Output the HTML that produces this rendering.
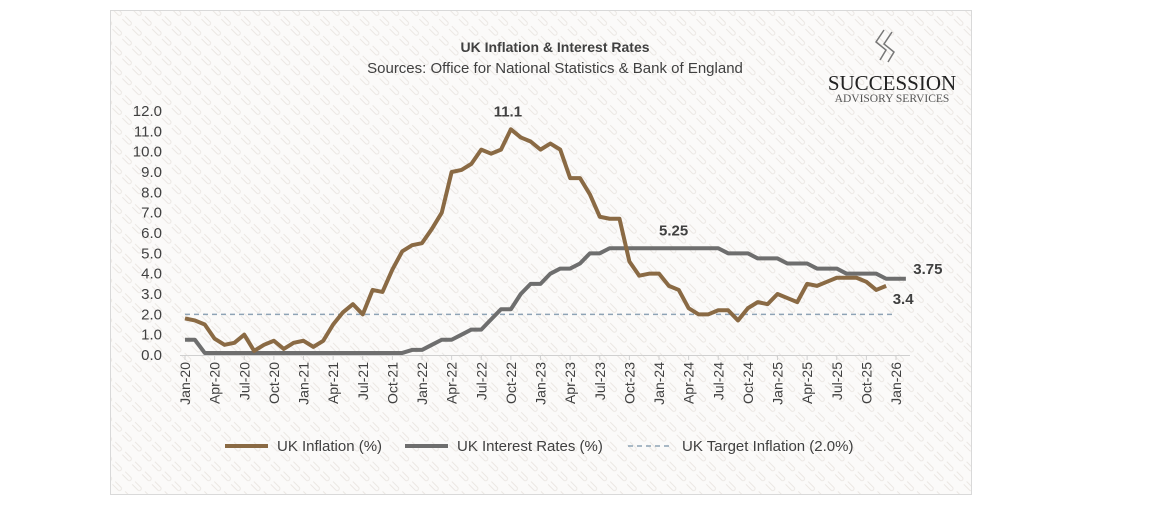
<!DOCTYPE html>
<html><head><meta charset="utf-8"><style>
html,body{margin:0;padding:0;background:#fff;}
body{width:1150px;height:514px;position:relative;font-family:"Liberation Sans",sans-serif;}
</style></head><body>
<svg width="1150" height="514" xmlns="http://www.w3.org/2000/svg">
<defs>
<pattern id="pat" width="14" height="14" patternUnits="userSpaceOnUse" patternTransform="rotate(-45)">
<rect width="14" height="14" fill="#fbfaf9"/>
<path d="M3 2 v8 a2 2 0 0 0 4 0 v-8" fill="none" stroke="#ebe7e3" stroke-width="1"/>
</pattern>
</defs>
<rect x="110.5" y="10.5" width="861" height="484" fill="url(#pat)" stroke="#d9d9d9"/>
<text x="555" y="52" text-anchor="middle" font-size="14" font-weight="bold" fill="#404040">UK Inflation &amp; Interest Rates</text>
<text x="555" y="73" text-anchor="middle" font-size="15" fill="#404040">Sources: Office for National Statistics &amp; Bank of England</text>
<g>
<path d="M884 30 l-8 12 l10 8 l-6 10 M892 32 l-8 12 l10 8 l-6 10" fill="none" stroke="#777" stroke-width="1.5"/>
<text x="892" y="90" text-anchor="middle" font-family="Liberation Serif,serif" font-size="21" fill="#222">SUCCESSION</text>
<text x="892" y="102" text-anchor="middle" font-family="Liberation Serif,serif" font-size="11.5" fill="#555">ADVISORY SERVICES</text>
</g>
<g id="yaxis"></g>
<g id="xaxis"></g>
<g id="series"></g>
<g>
<line x1="225" y1="446" x2="268" y2="446" stroke="#8a6a44" stroke-width="4"/>
<text x="277" y="451" font-size="15" fill="#404040">UK Inflation (%)</text>
<line x1="405" y1="446" x2="448" y2="446" stroke="#6e6e6e" stroke-width="4"/>
<text x="457" y="451" font-size="15" fill="#404040">UK Interest Rates (%)</text>
<line x1="628" y1="446" x2="672" y2="446" stroke="#8ea3b5" stroke-width="1.5" stroke-dasharray="5,4"/>
<text x="682" y="451" font-size="15" fill="#404040">UK Target Inflation (2.0%)</text>
</g>
</svg>
<script>
const yTicks=[0,1,2,3,4,5,6,7,8,9,10,11,12];
const xTickLabels=["Jan-20","Apr-20","Jul-20","Oct-20","Jan-21","Apr-21","Jul-21","Oct-21","Jan-22","Apr-22","Jul-22","Oct-22","Jan-23","Apr-23","Jul-23","Oct-23","Jan-24","Apr-24","Jul-24","Oct-24","Jan-25","Apr-25","Jul-25","Oct-25","Jan-26"];
const inflation=[1.8,1.7,1.5,0.8,0.5,0.6,1.0,0.2,0.5,0.7,0.3,0.6,
0.7,0.4,0.7,1.5,2.1,2.5,2.0,3.2,3.1,4.2,5.1,5.4,
5.5,6.2,7.0,9.0,9.1,9.4,10.1,9.9,10.1,11.1,10.7,10.5,
10.1,10.4,10.1,8.7,8.7,7.9,6.8,6.7,6.7,4.6,3.9,4.0,
4.0,3.4,3.2,2.3,2.0,2.0,2.2,2.2,1.7,2.3,2.6,2.5,
3.0,2.8,2.6,3.5,3.4,3.6,3.8,3.8,3.8,3.6,3.2,3.4];
const interest=[0.75,0.75,0.1,0.1,0.1,0.1,0.1,0.1,0.1,0.1,0.1,0.1,
0.1,0.1,0.1,0.1,0.1,0.1,0.1,0.1,0.1,0.1,0.1,0.25,
0.25,0.5,0.75,0.75,1.0,1.25,1.25,1.75,2.25,2.25,3.0,3.5,
3.5,4.0,4.25,4.25,4.5,5.0,5.0,5.25,5.25,5.25,5.25,5.25,
5.25,5.25,5.25,5.25,5.25,5.25,5.25,5.0,5.0,5.0,4.75,4.75,
4.75,4.5,4.5,4.5,4.25,4.25,4.25,4.0,4.0,4.0,4.0,3.75,
3.75,3.75];
const target=[2.0];
const NS="http://www.w3.org/2000/svg";
const x=i=>185+i*9.875;
const y=v=>355-v*(244/12);
function mk(tag,attrs,parent){const e=document.createElementNS(NS,tag);for(const k in attrs)e.setAttribute(k,attrs[k]);parent.appendChild(e);return e;}
const ya=document.getElementById('yaxis');
yTicks.forEach(t=>{const e=mk('text',{x:162,y:y(t)+5,'text-anchor':'end','font-size':15,fill:'#404040'},ya);


e.textContent=t.toFixed(1);});
const xa=document.getElementById('xaxis');
const ax=mk('line',{x1:180,y1:355.5,x2:910,y2:355.5,stroke:'#d0d0d0'},xa);


xTickLabels.forEach((l,k)=>{const xi=x(k*3);
const tk=mk('line',{x1:xi,y1:355,x2:xi,y2:360,stroke:'#d0d0d0'},xa);


const e=mk('text',{transform:`translate(${xi+5},362) rotate(-90)`,'text-anchor':'end','font-size':14,fill:'#404040'},xa);


e.textContent=l;});
const s=document.getElementById('series');
const tl=mk('line',{x1:x(0),y1:y(target[0]),x2:x(72),y2:y(target[0]),stroke:'#8ea3b5','stroke-width':1.5,'stroke-dasharray':'5,4'},s);


const ir=mk('polyline',{points:interest.map((v,i)=>x(i)+','+y(v)).join(' '),fill:'none',stroke:'#6e6e6e','stroke-width':4,'stroke-linejoin':'round'},s);


const inf=mk('polyline',{points:inflation.map((v,i)=>x(i)+','+y(v)).join(' '),fill:'none',stroke:'#8a6a44','stroke-width':4,'stroke-linejoin':'round'},s);


function lab(txt,xx,yy,name){const e=mk('text',{x:xx,y:yy,'text-anchor':'middle','font-size':15,'font-weight':'bold',fill:'#404040'},s);


e.textContent=txt;}
const pk=inflation.indexOf(Math.max(...inflation));
lab(inflation[pk].toFixed(1),x(pk)-3,y(inflation[pk])-13,'inflation-peak-label');
const ipk=interest.indexOf(Math.max(...interest));
lab(String(interest[ipk]),x(ipk)+64,y(interest[ipk])-13,'interest-peak-label');
lab(String(interest[interest.length-1]),x(interest.length-1)+22,y(interest[interest.length-1])-5,'interest-last-label');
lab(String(inflation[inflation.length-1]),x(inflation.length-1)+17,y(inflation[inflation.length-1])+18,'inflation-last-label');
</script>
</body></html>
